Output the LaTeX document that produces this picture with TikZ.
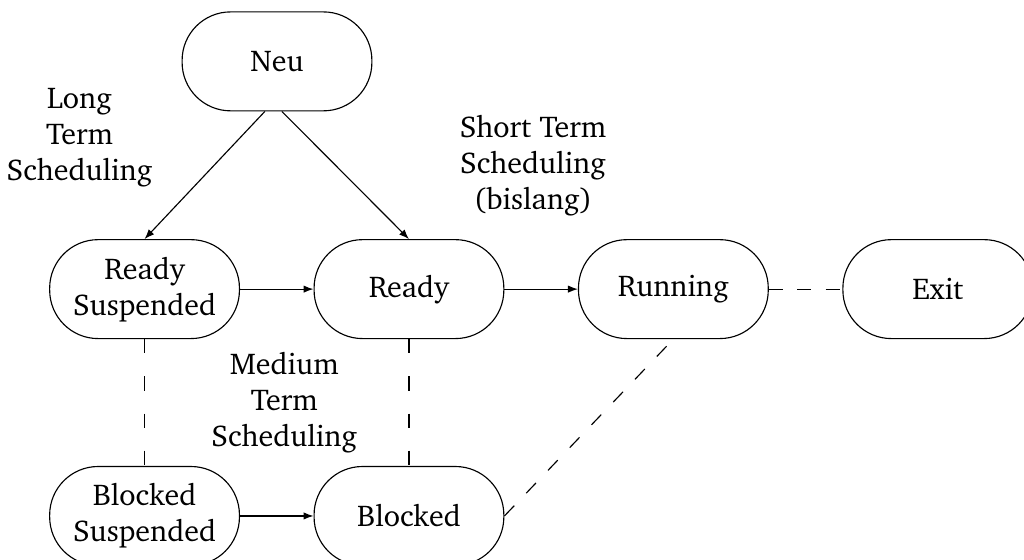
\documentclass[tikz,border=0pt]{standalone}
\usepackage[T1]{fontenc}
\usepackage{charter}
\usetikzlibrary{arrows.meta, positioning}
\tikzset{
  procbox/.style  = {draw, rectangle, rounded corners=0.6cm, line width=0.4pt,
                     minimum width=2.35cm, minimum height=1.225cm, align=center},
  trans/.style    = {-{Latex[length=3.5pt,width=2.6pt]}, line width=0.4pt},
  swapline/.style = {dash pattern=on 5pt off #1, line width=0.4pt},
  swapline/.default = 5pt,
  lbl/.style      = {align=center},
}

\begin{document}
\begin{tikzpicture}[x=1cm,y=1cm, font=\fontsize{10.6}{12.7}\selectfont]
  \useasboundingbox (0,0) rectangle (12.68,-6.93);
  % states
  \node[procbox] (neu) at (3.43,-0.76) {Neu};
  \node[procbox] (rsusp) at (1.79,-3.58) {Ready\\Suspended};
  \node[procbox, right=0.91cm of rsusp] (ready) {Ready};
  \node[procbox, right=0.91cm of ready] (running) {Running};
  \node[procbox, right=0.91cm of running] (exit) {Exit};
  \node[procbox, below=1.57cm of rsusp] (bsusp) {Blocked\\Suspended};
  \node[procbox, below=1.57cm of ready] (blocked) {Blocked};
  % scheduler labels
  \node[lbl] (longlbl) at (0.985,-1.70) {Long\\Term\\Scheduling};
  \node[lbl] (shortlbl) at (6.60,-2.05) {Short Term\\Scheduling\\(bislang)};
  \node[lbl] (medlbl) at (3.52,-4.98) {Medium\\Term\\Scheduling};
  % transitions
  \draw[trans] ([xshift=-0.15cm]neu.south) -- (rsusp.north);
  \draw[trans] ([xshift=0.06cm]neu.south) -- (ready.north);
  \draw[trans] (rsusp) -- (ready);
  \draw[trans] (ready) -- (running);
  \draw[trans] (bsusp) -- (blocked);
  \draw[swapline] (running) -- (exit);
  \draw[swapline=8.1pt] (rsusp) -- (bsusp);
  \draw[swapline=8.1pt] (ready) -- (blocked);
  \draw[swapline=6.1pt] (blocked.east) -- (running.south);
\end{tikzpicture}
\end{document}
